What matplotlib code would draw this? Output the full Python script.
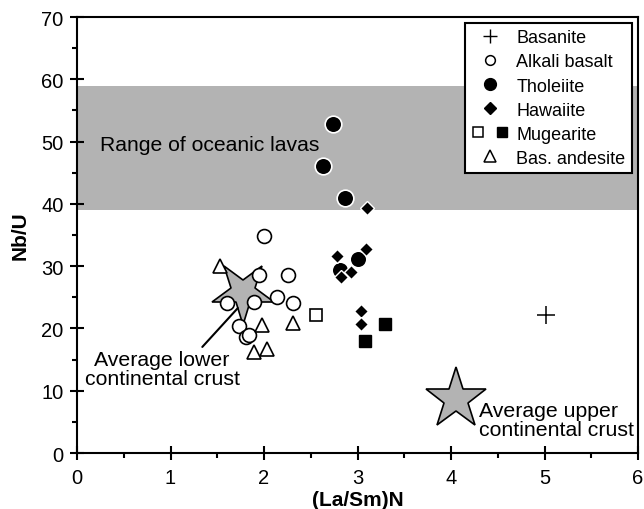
import matplotlib
matplotlib.use("Agg")
import matplotlib.pyplot as plt
from matplotlib.lines import Line2D
from matplotlib.markers import MarkerStyle
from matplotlib.transforms import Affine2D
from matplotlib.legend_handler import HandlerTuple
from matplotlib.ticker import MultipleLocator

plt.rcParams["font.family"] = ["Liberation Sans", "DejaVu Sans"]

# (La/Sm)N and Nb/U by rock type
basanite_x = [5.02]
basanite_y = [22.2]

alkali_x = [2.00, 1.95, 2.26, 1.60, 1.89, 2.14, 2.31, 1.73, 1.81, 1.84]
alkali_y = [34.8, 28.6, 28.5, 24.1, 24.2, 25.1, 24.1, 20.4, 18.6, 19.0]

tholeiite_x = [2.74, 2.63, 2.87, 3.01, 2.81]
tholeiite_y = [52.9, 46.1, 40.9, 31.1, 29.4]

hawaiite_x = [3.10, 2.78, 3.09, 2.93, 2.82, 3.04, 3.04]
hawaiite_y = [39.4, 31.7, 32.7, 29.1, 28.2, 22.8, 20.7]

mugearite_open_x = [2.56]
mugearite_open_y = [22.2]
mugearite_fill_x = [3.29, 3.08]
mugearite_fill_y = [20.7, 18.0]

andesite_x = [1.53, 1.98, 2.31, 2.03, 1.89]
andesite_y = [30.1, 20.5, 20.9, 16.7, 16.2]

# reference compositions
lower_crust = (1.78, 25.8)
upper_crust = (4.05, 8.6)

# oceanic lava range of Nb/U
ocean_lo, ocean_hi = 39, 59

GREY = "#b3b3b3"

fig = plt.figure(figsize=(6.44, 5.10), dpi=100)
ax = fig.add_axes([0.1196, 0.1098, 0.8711, 0.8549])

ax.axhspan(ocean_lo, ocean_hi, color=GREY, lw=0, zorder=0)
ax.text(0.25, 49.5, "Range of oceanic lavas", fontsize=15.2, va="center", zorder=1)

star_down = MarkerStyle("*", transform=Affine2D().rotate_deg(180))
ax.plot(*lower_crust, marker=star_down, ms=47, mfc=GREY, mec="black", mew=1.2,
        ls="none", zorder=2)
ax.plot(*upper_crust, marker="*", ms=46, mfc=GREY, mec="black", mew=1.2,
        ls="none", zorder=2)

ax.annotate("", xy=(1.74, 23.6), xytext=(1.32, 16.7),
            arrowprops=dict(arrowstyle="-", lw=1.5, color="black"), zorder=3)
ax.text(0.91, 13.5, "Average lower\ncontinental crust", fontsize=15.3,
        ha="center", va="center", linespacing=1.0)
ax.text(4.30, 5.3, "Average upper\ncontinental crust", fontsize=15.3,
        ha="left", va="center", linespacing=1.0)

ax.plot(basanite_x, basanite_y, "+", ms=13, mew=1.1, color="black", zorder=4)
ax.plot(alkali_x, alkali_y, "o", ms=10, mfc="white", mec="black", mew=1.2, zorder=4)
ax.plot(andesite_x, andesite_y, "^", ms=10, mfc="white", mec="black", mew=1.2, zorder=4)
ax.plot(tholeiite_x, tholeiite_y, "o", ms=12, mfc="black", mec="white", mew=1.2, zorder=5)
ax.plot(hawaiite_x, hawaiite_y, "D", ms=7.5, mfc="black", mec="white", mew=1.0, zorder=5)
ax.plot(mugearite_open_x, mugearite_open_y, "s", ms=8.5, mfc="white", mec="black", mew=1.2, zorder=4)
ax.plot(mugearite_fill_x, mugearite_fill_y, "s", ms=8.5, mfc="black", mec="black", mew=1.0, zorder=4)

ax.set_xlim(0, 6)
ax.set_ylim(0, 70)
ax.xaxis.set_major_locator(MultipleLocator(1))
ax.xaxis.set_minor_locator(MultipleLocator(0.5))
ax.yaxis.set_major_locator(MultipleLocator(10))
ax.yaxis.set_minor_locator(MultipleLocator(5))
ax.tick_params(which="major", direction="inout", length=9.5, width=1.5,
               labelsize=14.5, pad=5)
ax.tick_params(which="minor", direction="out", length=3.5, width=1.5)
ax.tick_params(axis="x", which="major", pad=6)
for s in ax.spines.values():
    s.set_linewidth(1.5)

ax.set_xlabel("(La/Sm)N", fontsize=15, fontweight="bold", labelpad=2)
ax.set_ylabel("Nb/U", fontsize=15, fontweight="bold", labelpad=8)

# legend proxies
h_bas = Line2D([], [], marker="+", ms=10, mew=1.0, color="black", ls="none")
h_alk = Line2D([], [], marker="o", ms=7, mfc="white", mec="black", mew=1.1, ls="none")
h_tho = Line2D([], [], marker="o", ms=8.5, mfc="black", mec="black", ls="none")
h_haw = Line2D([], [], marker="D", ms=6, mfc="black", mec="black", ls="none")
h_mo = Line2D([], [], marker="s", ms=7, mfc="white", mec="black", mew=1.1, ls="none")
h_mf = Line2D([], [], marker="s", ms=7, mfc="black", mec="black", ls="none")
h_and = Line2D([], [], marker="^", ms=8, mfc="white", mec="black", mew=1.1, ls="none")

leg = ax.legend([h_bas, h_alk, h_tho, h_haw, (h_mo, h_mf), h_and],
                ["Basanite", "Alkali basalt", "Tholeiite", "Hawaiite",
                 "Mugearite", "Bas. andesite"],
                handler_map={tuple: HandlerTuple(ndivide=None, pad=0.55)},
                loc="upper right", bbox_to_anchor=(0.989, 0.986),
                borderaxespad=0, fontsize=13, fancybox=False, framealpha=1,
                edgecolor="black", handlelength=2.1, handletextpad=0.4,
                borderpad=0.35, labelspacing=0.39)
leg.get_frame().set_linewidth(1.5)
leg.set_zorder(6)

fig.savefig("out.png", dpi=100)
